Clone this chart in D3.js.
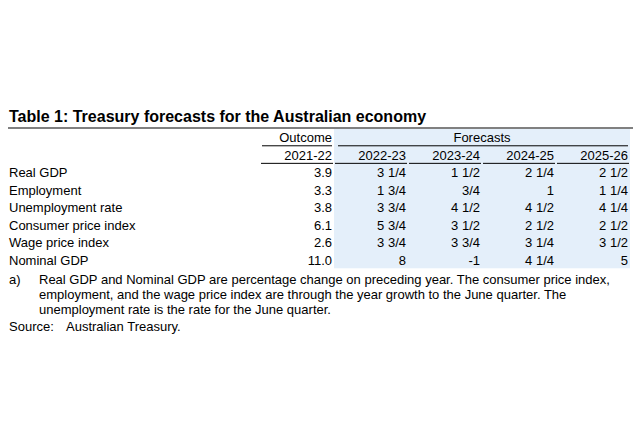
<!DOCTYPE html>
<html>
<head>
<meta charset="utf-8">
<script src="https://d3js.org/d3.v7.min.js"></script>
<style>
  body { margin: 0; background: #fff; }
  svg { display: block; font-family: "Liberation Sans", Arial, sans-serif; }
</style>
</head>
<body>
<div class="vis"></div>
<script>
    var title = "Table 1: Treasury forecasts for the Australian economy";
    var indicators = ["Real GDP", "Employment", "Unemployment rate", "Consumer price index", "Wage price index", "Nominal GDP"];
    var years = ["2021-22", "2022-23", "2023-24", "2024-25", "2025-26"];
    var outcome = ["3.9", "3.3", "3.8", "6.1", "2.6", "11.0"];
    var fc2223 = ["3 1/4", "1 3/4", "3 3/4", "5 3/4", "3 3/4", "8"];
    var fc2324 = ["1 1/2", "3/4", "4 1/2", "3 1/2", "3 3/4", "-1"];
    var fc2425 = ["2 1/4", "1", "4 1/2", "2 1/2", "3 1/4", "4 1/4"];
    var fc2526 = ["2 1/2", "1 1/4", "4 1/4", "2 1/2", "3 1/2", "5"];
    var notes = [
        "Real GDP and Nominal GDP are percentage change on preceding year. The consumer price index,",
        "employment, and the wage price index are through the year growth to the June quarter. The",
        "unemployment rate is the rate for the June quarter."
    ];
    var source = "Australian Treasury.";

    var columns = [outcome, fc2223, fc2324, fc2425, fc2526];

    var width = 640, height = 432;
    var left = 8, right = 633;
    var fs = 13;

    var svg = d3.select(".vis").append("svg")
        .attr("width", width).attr("height", height)
        .attr("viewBox", [0, 0, width, height]);

    // column bands (numbers right-aligned in each band)
    var x = d3.scaleBand().domain(years).range([262, 628]).paddingInner(4 / 74);
    // row positions: two header rows + data rows
    var rows = ["hdr1", "hdr2"].concat(indicators);
    var y = d3.scalePoint().domain(rows).range([137.5, 260.5]);
    var rowH = y.step();

    // forecast shading
    svg.append("rect")
        .attr("x", x(years[1]) - 2)
        .attr("y", 129)
        .attr("width", x(years[4]) + x.bandwidth() + 2 - (x(years[1]) - 2))
        .attr("height", y(indicators[5]) + rowH / 2 - 129 - 1)
        .attr("fill", "#e4effa");

    // title
    svg.append("text")
        .attr("x", left + 1).attr("y", 122)
        .attr("font-size", 16).attr("font-weight", "bold")
        .attr("fill", "#000")
        .text(title);

    svg.append("line")
        .attr("x1", left).attr("x2", right)
        .attr("y1", 128).attr("y2", 128)
        .attr("stroke", "#808080").attr("stroke-width", 2);

    // header row 1
    var base1 = y("hdr1") + 4.5;
    svg.append("text")
        .attr("x", x(years[0]) + x.bandwidth()).attr("y", base1)
        .attr("text-anchor", "end").attr("font-size", fs)
        .text("Outcome");
    svg.append("text")
        .attr("x", (x(years[1]) + x(years[4]) + x.bandwidth()) / 2).attr("y", base1)
        .attr("text-anchor", "middle").attr("font-size", fs)
        .text("Forecasts");

    var ul1 = y("hdr1") + rowH / 2 - 0.5;
    svg.append("line")
        .attr("x1", x(years[0])).attr("x2", x(years[0]) + x.bandwidth())
        .attr("y1", ul1).attr("y2", ul1)
        .attr("stroke", "#000").attr("stroke-width", 1);
    svg.append("line")
        .attr("x1", x(years[1]) + 2).attr("x2", x(years[4]) + x.bandwidth())
        .attr("y1", ul1).attr("y2", ul1)
        .attr("stroke", "#000").attr("stroke-width", 1);

    // header row 2: years
    svg.append("g").selectAll("text")
        .data(years)
        .join("text")
        .attr("x", d => x(d) + x.bandwidth())
        .attr("y", y("hdr2") + 4.5)
        .attr("text-anchor", "end").attr("font-size", fs)
        .text(d => d);

    var ul2 = y("hdr2") + rowH / 2 - 0.5;
    svg.append("g").selectAll("line")
        .data(years)
        .join("line")
        .attr("x1", d => x(d) - 1)
        .attr("x2", d => x(d) + x.bandwidth() + 1)
        .attr("y1", ul2).attr("y2", ul2)
        .attr("stroke", "#000").attr("stroke-width", 1);

    // row labels
    svg.append("g").selectAll("text")
        .data(indicators)
        .join("text")
        .attr("x", left + 1)
        .attr("y", d => y(d) + 4.5)
        .attr("font-size", fs)
        .text(d => d);

    // values
    columns.forEach(function (col, ci) {
        svg.append("g").selectAll("text")
            .data(col)
            .join("text")
            .attr("x", x(years[ci]) + x.bandwidth())
            .attr("y", (d, i) => y(indicators[i]) + 4.5)
            .attr("text-anchor", "end").attr("font-size", fs)
            .text(d => d);
    });

    // notes
    var noteY = 283.5;
    svg.append("text")
        .attr("x", left + 1).attr("y", noteY)
        .attr("font-size", fs).text("a)");
    svg.append("g").selectAll("text")
        .data(notes)
        .join("text")
        .attr("x", 39)
        .attr("y", (d, i) => noteY + i * 15)
        .attr("font-size", fs)
        .text(d => d);

    svg.append("text")
        .attr("x", left + 1).attr("y", 330.5)
        .attr("font-size", fs).text("Source:");
    svg.append("text")
        .attr("x", 66).attr("y", 330.5)
        .attr("font-size", fs).text(source);
</script>
</body>
</html>
